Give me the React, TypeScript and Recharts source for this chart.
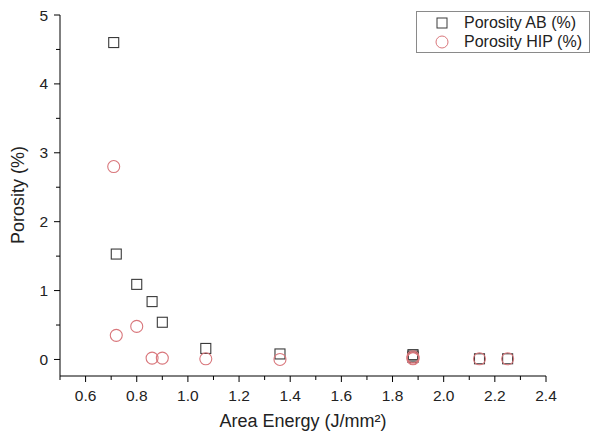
import React from 'react';
import {
  ScatterChart,
  Scatter,
  XAxis,
  YAxis,
  Label,
} from 'recharts';

// ─── Data ─────────────────────────────────────────────────────────────────────

const areaEnergy = [0.71, 0.72, 0.8, 0.86, 0.9, 1.07, 1.36, 1.88, 1.88, 1.88, 2.14, 2.25];
const porosityAB = [4.6, 1.53, 1.09, 0.84, 0.54, 0.16, 0.08, 0.07, 0.05, 0.03, 0.01, 0.01];
const porosityHIP = [2.8, 0.35, 0.48, 0.02, 0.02, 0.01, 0.0, 0.04, 0.02, 0.01, 0.01, 0.01];

const xTicks = [
  0.5, 0.6, 0.7, 0.8, 0.9, 1.0, 1.1, 1.2, 1.3, 1.4, 1.5, 1.6, 1.7, 1.8, 1.9, 2.0, 2.1,
  2.2, 2.3, 2.4,
];
const xLabels = ['0.6', '0.8', '1.0', '1.2', '1.4', '1.6', '1.8', '2.0', '2.2', '2.4'];
const yTicks = [0, 0.5, 1, 1.5, 2, 2.5, 3, 3.5, 4, 4.5, 5];
const yLabels = ['0', '1', '2', '3', '4', '5'];

const abData = areaEnergy.map((x, i) => ({ x, y: porosityAB[i] }));
const hipData = areaEnergy.map((x, i) => ({ x, y: porosityHIP[i] }));

// ─── Styling ──────────────────────────────────────────────────────────────────

const FONT = '"Liberation Sans", Arial, sans-serif';
const AB_COLOR = '#3a3a3a';
const HIP_COLOR = '#d9777c';
const TEXT_COLOR = '#222';

// ─── Shapes & ticks ───────────────────────────────────────────────────────────

function SquareMark(props: any) {
  const { cx, cy } = props;
  return (
    <rect x={cx - 5} y={cy - 5} width={10} height={10} fill="none" stroke={AB_COLOR} strokeWidth={1.1} />
  );
}

function CircleMark(props: any) {
  const { cx, cy } = props;
  return <circle cx={cx} cy={cy} r={6} fill="none" stroke={HIP_COLOR} strokeWidth={1.1} />;
}

function XTick(props: any) {
  const { x, y, payload } = props;
  const label = payload.value.toFixed(1);
  const major = xLabels.includes(label);
  return (
    <g>
      <line x1={x} x2={x} y1={y} y2={y + (major ? 6 : 4)} stroke="#000" />
      {major && (
        <text x={x} y={y + 25} textAnchor="middle" fill={TEXT_COLOR} fontSize={15.5} fontFamily={FONT}>
          {label}
        </text>
      )}
    </g>
  );
}

function YTick(props: any) {
  const { x, y, payload } = props;
  const label = String(payload.value);
  const major = yLabels.includes(label);
  return (
    <g>
      <line x1={x} x2={x - (major ? 6 : 4)} y1={y} y2={y} stroke="#000" />
      {major && (
        <text x={x - 12} y={y + 5.5} textAnchor="end" fill={TEXT_COLOR} fontSize={15.5} fontFamily={FONT}>
          {label}
        </text>
      )}
    </g>
  );
}

function LegendBox() {
  return (
    <div
      style={{
        position: 'absolute',
        left: 416,
        top: 11,
        width: 174,
        boxSizing: 'border-box',
        border: '1px solid #8a8a8a',
        background: '#fff',
        padding: '1px 2px 1px 18px',
        fontFamily: FONT,
        fontSize: 16,
        color: TEXT_COLOR,
        lineHeight: '19px',
      }}
    >
      <div style={{ display: 'flex', alignItems: 'center' }}>
        <svg width={16} height={14}>
          <rect x={2} y={2} width={10} height={10} fill="none" stroke={AB_COLOR} />
        </svg>
        <span style={{ marginLeft: 13 }}>Porosity AB (%)</span>
      </div>
      <div style={{ display: 'flex', alignItems: 'center' }}>
        <svg width={16} height={14}>
          <circle cx={7} cy={7} r={6} fill="none" stroke={HIP_COLOR} />
        </svg>
        <span style={{ marginLeft: 13 }}>Porosity HIP (%)</span>
      </div>
    </div>
  );
}

// ─── Chart ────────────────────────────────────────────────────────────────────

export default function App() {
  return (
    <div style={{ position: 'absolute', left: 0, top: 0, width: 592, height: 439, background: '#fff' }}>
      <ScatterChart width={592} height={439} margin={{ top: 15, right: 46, bottom: 0, left: 0 }}>
        <XAxis
          type="number"
          dataKey="x"
          domain={[0.5, 2.4]}
          ticks={xTicks}
          interval={0}
          allowDataOverflow
          tickSize={0}
          tickMargin={0}
          tick={<XTick />}
          height={63}
          stroke="#000"
        >
          <Label
            content={() => (
              <text x={303} y={427} textAnchor="middle" fill={TEXT_COLOR} fontSize={18} fontFamily={FONT}>
                Area Energy (J/mm²)
              </text>
            )}
          />
        </XAxis>
        <YAxis
          type="number"
          dataKey="y"
          domain={[-0.24, 5]}
          ticks={yTicks}
          interval={0}
          allowDataOverflow
          tickSize={0}
          tickMargin={0}
          tick={<YTick />}
          width={60}
          stroke="#000"
        >
          <Label
            content={() => (
              <text
                x={24}
                y={195}
                textAnchor="middle"
                fill={TEXT_COLOR}
                fontSize={18}
                fontFamily={FONT}
                transform="rotate(-90 24 195)"
              >
                Porosity (%)
              </text>
            )}
          />
        </YAxis>
        <Scatter name="Porosity AB (%)" data={abData} shape={<SquareMark />} isAnimationActive={false} />
        <Scatter name="Porosity HIP (%)" data={hipData} shape={<CircleMark />} isAnimationActive={false} />
      </ScatterChart>
      <LegendBox />
    </div>
  );
}
